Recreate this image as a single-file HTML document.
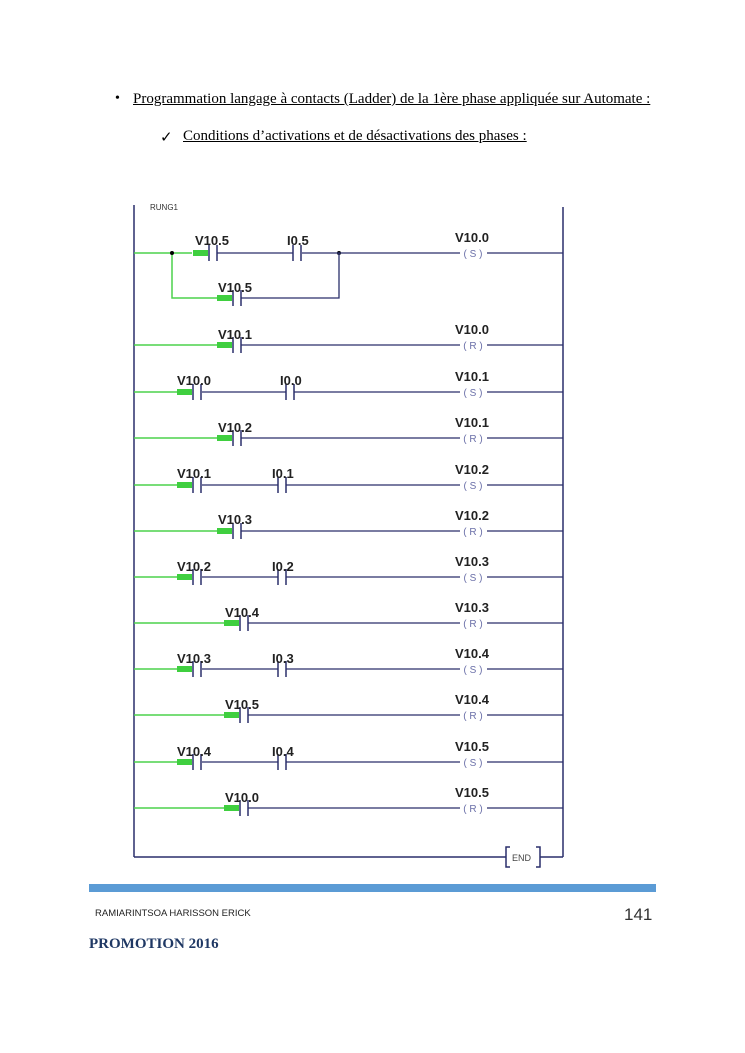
<!DOCTYPE html>
<html><head><meta charset="utf-8"><style>
body{margin:0;background:#fff;width:745px;height:1053px;overflow:hidden;position:relative;font-family:"Liberation Serif",serif}
.t{position:absolute;font-size:15px;color:#000;text-decoration:underline;white-space:nowrap}
</style></head><body>
<div style="position:absolute;left:115px;top:91px;font-size:14px">•</div>
<div class="t" style="left:133px;top:91px">Programmation langage à contacts (Ladder) de la 1ère phase appliquée sur Automate :</div>
<div style="position:absolute;left:160px;top:128px;font-size:15px">✓</div>
<div class="t" style="left:183px;top:128px">Conditions d’activations et de désactivations des phases :</div>

<svg width="745" height="1053" style="position:absolute;left:0;top:0" font-family="Liberation Sans, sans-serif">
<defs>
<g id="c"><line x1="0" y1="-8" x2="0" y2="8" stroke="#2a2f6b" stroke-width="1.5"/><line x1="8" y1="-8" x2="8" y2="8" stroke="#2a2f6b" stroke-width="1.5"/></g>
<g id="g"><rect x="-16" y="-3" width="15" height="6" fill="#3fcf3f"/></g>
</defs>
<g stroke="#2a2f6b" stroke-width="1.5" fill="none">
<line x1="134" y1="205" x2="134" y2="857"/>
<line x1="563" y1="207" x2="563" y2="857"/>
<line x1="134" y1="857" x2="506" y2="857"/>
<line x1="540" y1="857" x2="563" y2="857"/>
<path d="M510 847 H506 V867 H510 M536 847 H540 V867 H536"/>
</g>
<text x="512" y="861" font-size="9" fill="#444">END</text>
<text x="150" y="210" font-size="8" fill="#333">RUNG1</text>

<g stroke="#4cd24c" stroke-width="1.5" fill="none">
<path d="M134 253 H192 M172 253 V298 H218"/>
<line x1="134" y1="345" x2="218" y2="345"/>
<line x1="134" y1="392" x2="178" y2="392"/>
<line x1="134" y1="438" x2="218" y2="438"/>
<line x1="134" y1="485" x2="178" y2="485"/>
<line x1="134" y1="531" x2="218" y2="531"/>
<line x1="134" y1="577" x2="178" y2="577"/>
<line x1="134" y1="623" x2="225" y2="623"/>
<line x1="134" y1="669" x2="178" y2="669"/>
<line x1="134" y1="715" x2="225" y2="715"/>
<line x1="134" y1="762" x2="178" y2="762"/>
<line x1="134" y1="808" x2="225" y2="808"/>
</g>
<circle cx="172" cy="253" r="2" fill="#000"/><circle cx="339" cy="253" r="2" fill="#000"/>
<g stroke="#2a2f6b" stroke-width="1.3" fill="none">
<path d="M217 253 H293 M302 253 H460 M487 253 H563 M241 298 H339 V253"/>
<path d="M241 345 H460 M487 345 H563"/>
<path d="M202 392 H286 M294 392 H460 M487 392 H563"/>
<path d="M241 438 H460 M487 438 H563"/>
<path d="M202 485 H278 M286 485 H460 M487 485 H563"/>
<path d="M241 531 H460 M487 531 H563"/>
<path d="M202 577 H278 M286 577 H460 M487 577 H563"/>
<path d="M248 623 H460 M487 623 H563"/>
<path d="M202 669 H278 M286 669 H460 M487 669 H563"/>
<path d="M248 715 H460 M487 715 H563"/>
<path d="M202 762 H278 M286 762 H460 M487 762 H563"/>
<path d="M248 808 H460 M487 808 H563"/>
</g>
<use href="#g" x="209" y="253"/><use href="#c" x="209" y="253"/><use href="#c" x="293" y="253"/>
<use href="#g" x="233" y="298"/><use href="#c" x="233" y="298"/>
<use href="#g" x="233" y="345"/><use href="#c" x="233" y="345"/>
<use href="#g" x="193" y="392"/><use href="#c" x="193" y="392"/><use href="#c" x="286" y="392"/>
<use href="#g" x="233" y="438"/><use href="#c" x="233" y="438"/>
<use href="#g" x="193" y="485"/><use href="#c" x="193" y="485"/><use href="#c" x="278" y="485"/>
<use href="#g" x="233" y="531"/><use href="#c" x="233" y="531"/>
<use href="#g" x="193" y="577"/><use href="#c" x="193" y="577"/><use href="#c" x="278" y="577"/>
<use href="#g" x="240" y="623"/><use href="#c" x="240" y="623"/>
<use href="#g" x="193" y="669"/><use href="#c" x="193" y="669"/><use href="#c" x="278" y="669"/>
<use href="#g" x="240" y="715"/><use href="#c" x="240" y="715"/>
<use href="#g" x="193" y="762"/><use href="#c" x="193" y="762"/><use href="#c" x="278" y="762"/>
<use href="#g" x="240" y="808"/><use href="#c" x="240" y="808"/>

<g font-size="13" font-weight="bold" fill="#222">
<text x="195" y="245">V10.5</text><text x="287" y="245">I0.5</text>
<text x="218" y="292">V10.5</text>
<text x="218" y="339">V10.1</text>
<text x="177" y="385">V10.0</text><text x="280" y="385">I0.0</text>
<text x="218" y="432">V10.2</text>
<text x="177" y="478">V10.1</text><text x="272" y="478">I0.1</text>
<text x="218" y="524">V10.3</text>
<text x="177" y="571">V10.2</text><text x="272" y="571">I0.2</text>
<text x="225" y="617">V10.4</text>
<text x="177" y="663">V10.3</text><text x="272" y="663">I0.3</text>
<text x="225" y="709">V10.5</text>
<text x="177" y="756">V10.4</text><text x="272" y="756">I0.4</text>
<text x="225" y="802">V10.0</text>
<text x="455" y="242">V10.0</text>
<text x="455" y="334">V10.0</text>
<text x="455" y="381">V10.1</text>
<text x="455" y="427">V10.1</text>
<text x="455" y="474">V10.2</text>
<text x="455" y="520">V10.2</text>
<text x="455" y="566">V10.3</text>
<text x="455" y="612">V10.3</text>
<text x="455" y="658">V10.4</text>
<text x="455" y="704">V10.4</text>
<text x="455" y="751">V10.5</text>
<text x="455" y="797">V10.5</text>
</g>
<g font-size="10" fill="#6a6fa8" text-anchor="middle">
<text x="473" y="257">( S )</text>
<text x="473" y="349">( R )</text>
<text x="473" y="396">( S )</text>
<text x="473" y="442">( R )</text>
<text x="473" y="489">( S )</text>
<text x="473" y="535">( R )</text>
<text x="473" y="581">( S )</text>
<text x="473" y="627">( R )</text>
<text x="473" y="673">( S )</text>
<text x="473" y="719">( R )</text>
<text x="473" y="766">( S )</text>
<text x="473" y="812">( R )</text>
</g>
<rect x="89" y="884" width="567" height="8" fill="#5b9bd5"/>
<text x="95" y="916" font-size="9.5" fill="#222">RAMIARINTSOA HARISSON ERICK</text>
<text x="624" y="920" font-size="17" fill="#333">141</text>
<text x="89" y="948" font-size="15" font-weight="bold" fill="#1f3864" font-family="Liberation Serif, serif">PROMOTION 2016</text>
</svg>
</body></html>
